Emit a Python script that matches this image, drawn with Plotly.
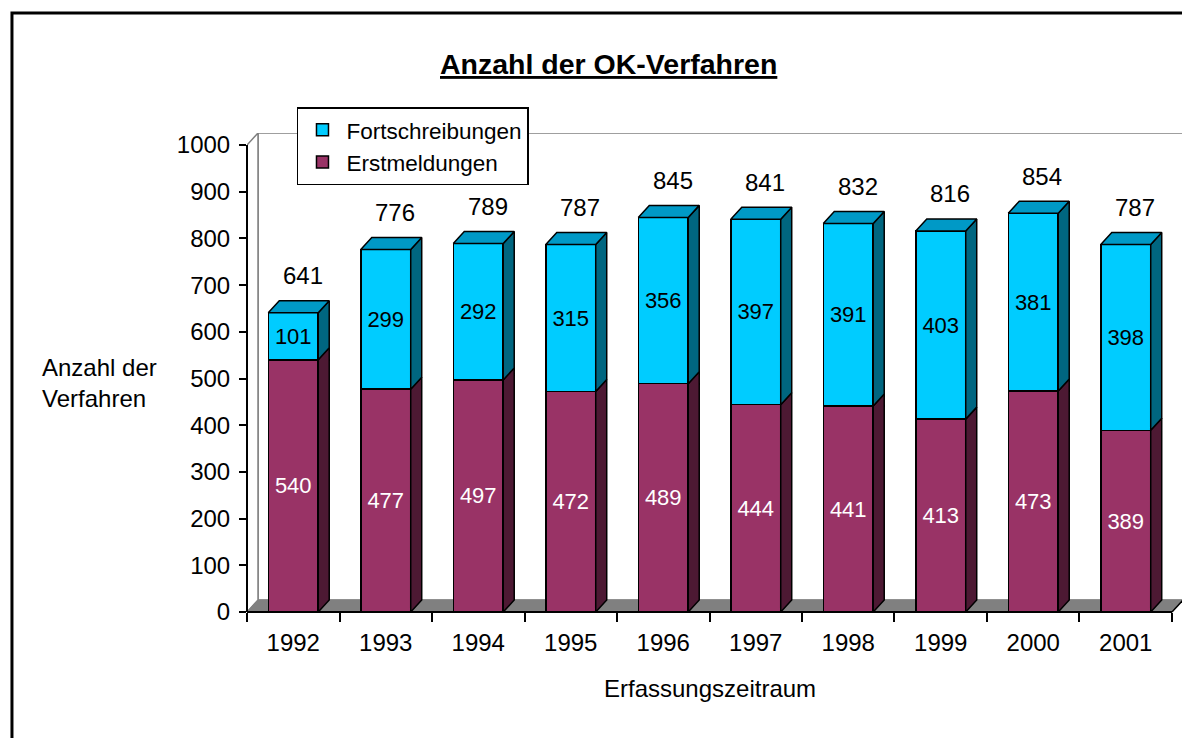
import plotly.graph_objects as go

# Daten
jahre = ["1992", "1993", "1994", "1995", "1996", "1997", "1998", "1999", "2000", "2001"]
erstmeldungen = [540, 477, 497, 472, 489, 444, 441, 413, 473, 389]
fortschreibungen = [101, 299, 292, 315, 356, 397, 391, 403, 381, 398]
gesamt = [641, 776, 789, 787, 845, 841, 832, 816, 854, 787]
y_ticks = [0, 100, 200, 300, 400, 500, 600, 700, 800, 900, 1000]

# Geometrie der 3D-Optik
BAR_W = 0.54      # Breite der Vorderseite (Kategorie-Einheiten)
DX = 0.119        # Tiefe nach rechts (Kategorie-Einheiten)
DY = 25.7         # Tiefe nach oben (Werte-Einheiten)
Y_MAX = 1000
FONT = "Liberation Sans, Arial, sans-serif"

xs = list(range(len(jahre)))
X_MIN, X_MAX = -0.5, len(jahre) - 0.5 + DX
Y_TOP = Y_MAX + DY


def side_faces(bases, tops):
    px, py = [], []
    for i, (b, t) in enumerate(zip(bases, tops)):
        r = i + BAR_W / 2
        px += [r, r + DX, r + DX, r, r, None]
        py += [b, b + DY, t + DY, t, b, None]
    return px, py


def top_faces(tops):
    px, py = [], []
    for i, t in enumerate(tops):
        l, r = i - BAR_W / 2, i + BAR_W / 2
        px += [l, r, r + DX, l + DX, l, None]
        py += [t, t, t + DY, t + DY, t, None]
    return px, py


def to_paper_x(v):
    return (v - X_MIN) / (X_MAX - X_MIN)


def to_paper_y(v):
    return v / Y_TOP


fig = go.Figure()

# Vorderseiten
fig.add_trace(go.Bar(
    x=xs, y=erstmeldungen, width=BAR_W, name="Erstmeldungen",
    marker=dict(color="#993366", line=dict(color="black", width=1.5)),
    text=[str(v) for v in erstmeldungen], textposition="inside",
    insidetextanchor="middle", textangle=0,
    textfont=dict(color="white", size=22, family=FONT),
))
fig.add_trace(go.Bar(
    x=xs, y=fortschreibungen, width=BAR_W, name="Fortschreibungen",
    marker=dict(color="#00CCFF", line=dict(color="black", width=1.5)),
    text=[str(v) for v in fortschreibungen], textposition="inside",
    insidetextanchor="middle", textangle=0,
    textfont=dict(color="black", size=22, family=FONT),
))

# Seitenflächen und Deckflächen
sx, sy = side_faces([0] * len(xs), erstmeldungen)
fig.add_trace(go.Scatter(x=sx, y=sy, mode="lines", fill="toself", fillcolor="#4D1933",
                         line=dict(color="black", width=1.5), showlegend=False, hoverinfo="skip"))
sx, sy = side_faces(erstmeldungen, gesamt)
fig.add_trace(go.Scatter(x=sx, y=sy, mode="lines", fill="toself", fillcolor="#006680",
                         line=dict(color="black", width=1.5), showlegend=False, hoverinfo="skip"))
tx, ty = top_faces(gesamt)
fig.add_trace(go.Scatter(x=tx, y=ty, mode="lines", fill="toself", fillcolor="#0099C6",
                         line=dict(color="black", width=1.5), showlegend=False, hoverinfo="skip"))

# Summen über den Säulen
for i, g in enumerate(gesamt):
    fig.add_annotation(x=i + 0.1, y=g, yshift=37, text=str(g), showarrow=False,
                       yanchor="middle", font=dict(size=24, color="black", family=FONT))

shapes = [
    # Rückwand
    dict(type="rect", xref="x", yref="y", layer="below",
         x0=X_MIN + DX, x1=X_MAX, y0=DY, y1=Y_TOP,
         line=dict(color="#808080", width=1.5), fillcolor="white"),
    # linke Wand
    dict(type="path", xref="x", yref="y", layer="below",
         path=f"M{X_MIN},{0} L{X_MIN},{Y_MAX} L{X_MIN + DX},{Y_TOP} L{X_MIN + DX},{DY} Z",
         line=dict(color="#808080", width=1.5), fillcolor="white"),
    # Boden
    dict(type="path", xref="x", yref="y", layer="below",
         path=f"M{X_MIN},{0} L{X_MAX - DX},{0} L{X_MAX},{DY} L{X_MIN + DX},{DY} Z",
         line=dict(color="#808080", width=1), fillcolor="#808080"),
    # Achsenlinien
    dict(type="line", xref="paper", yref="paper", layer="above",
         x0=0, x1=0, y0=0, y1=to_paper_y(Y_MAX), line=dict(color="black", width=2)),
    dict(type="line", xref="paper", yref="paper", layer="above",
         x0=0, x1=to_paper_x(X_MAX - DX), y0=0, y1=0, line=dict(color="black", width=2)),
    dict(type="line", xref="paper", yref="paper", layer="above",
         x0=to_paper_x(X_MAX - DX), x1=1, y0=0, y1=to_paper_y(DY), line=dict(color="black", width=1.5)),
    # Rahmen
    dict(type="rect", xref="paper", yref="paper", layer="above",
         x0=-0.2511, x1=1.03, y0=-0.3, y1=1.2505, line=dict(color="black", width=3)),
]

fig.update_layout(
    barmode="stack",
    width=1182, height=730,
    margin=dict(l=239, r=7, t=125, b=126),
    paper_bgcolor="white", plot_bgcolor="white",
    font=dict(family=FONT, color="black"),
    showlegend=True,
    legend=dict(x=0.0534, y=1.054, xanchor="left", yanchor="top",
                bgcolor="white", bordercolor="black", borderwidth=1.5,
                traceorder="reversed", font=dict(size=22.5),
                itemwidth=38, entrywidth=246, entrywidthmode="pixels"),
    shapes=shapes,
    xaxis=dict(range=[X_MIN, X_MAX], tickvals=xs, ticktext=jahre, ticks="",
               showgrid=False, zeroline=False, showline=False,
               tickfont=dict(size=24), ticklabelstandoff=14,
               minor=dict(tickvals=[i - 0.5 for i in range(len(jahre) + 1)], ticks="outside",
                          ticklen=9, tickwidth=1.5, tickcolor="black", showgrid=False)),
    yaxis=dict(range=[0, Y_TOP], tickvals=y_ticks, ticks="outside", ticklen=7,
               tickwidth=1.5, tickcolor="black", showgrid=False, zeroline=False,
               showline=False, tickfont=dict(size=24), ticklabelstandoff=4),
    annotations=list(fig.layout.annotations) + [
        dict(text="<b><u>Anzahl der OK-Verfahren</u></b>", xref="paper", yref="paper",
             x=0.3857, y=1.144, showarrow=False, xanchor="center", yanchor="middle",
             font=dict(size=28.5)),
        dict(text="Anzahl der<br>Verfahren", xref="paper", yref="paper",
             x=-0.2212, y=0.478, showarrow=False, xanchor="left", yanchor="middle",
             align="left", font=dict(size=24)),
        dict(text="Erfassungszeitraum", xref="paper", yref="paper",
             x=0.4947, y=-0.1587, showarrow=False, xanchor="center", yanchor="middle",
             font=dict(size=24)),
    ],
)

fig.write_html("out.html")
